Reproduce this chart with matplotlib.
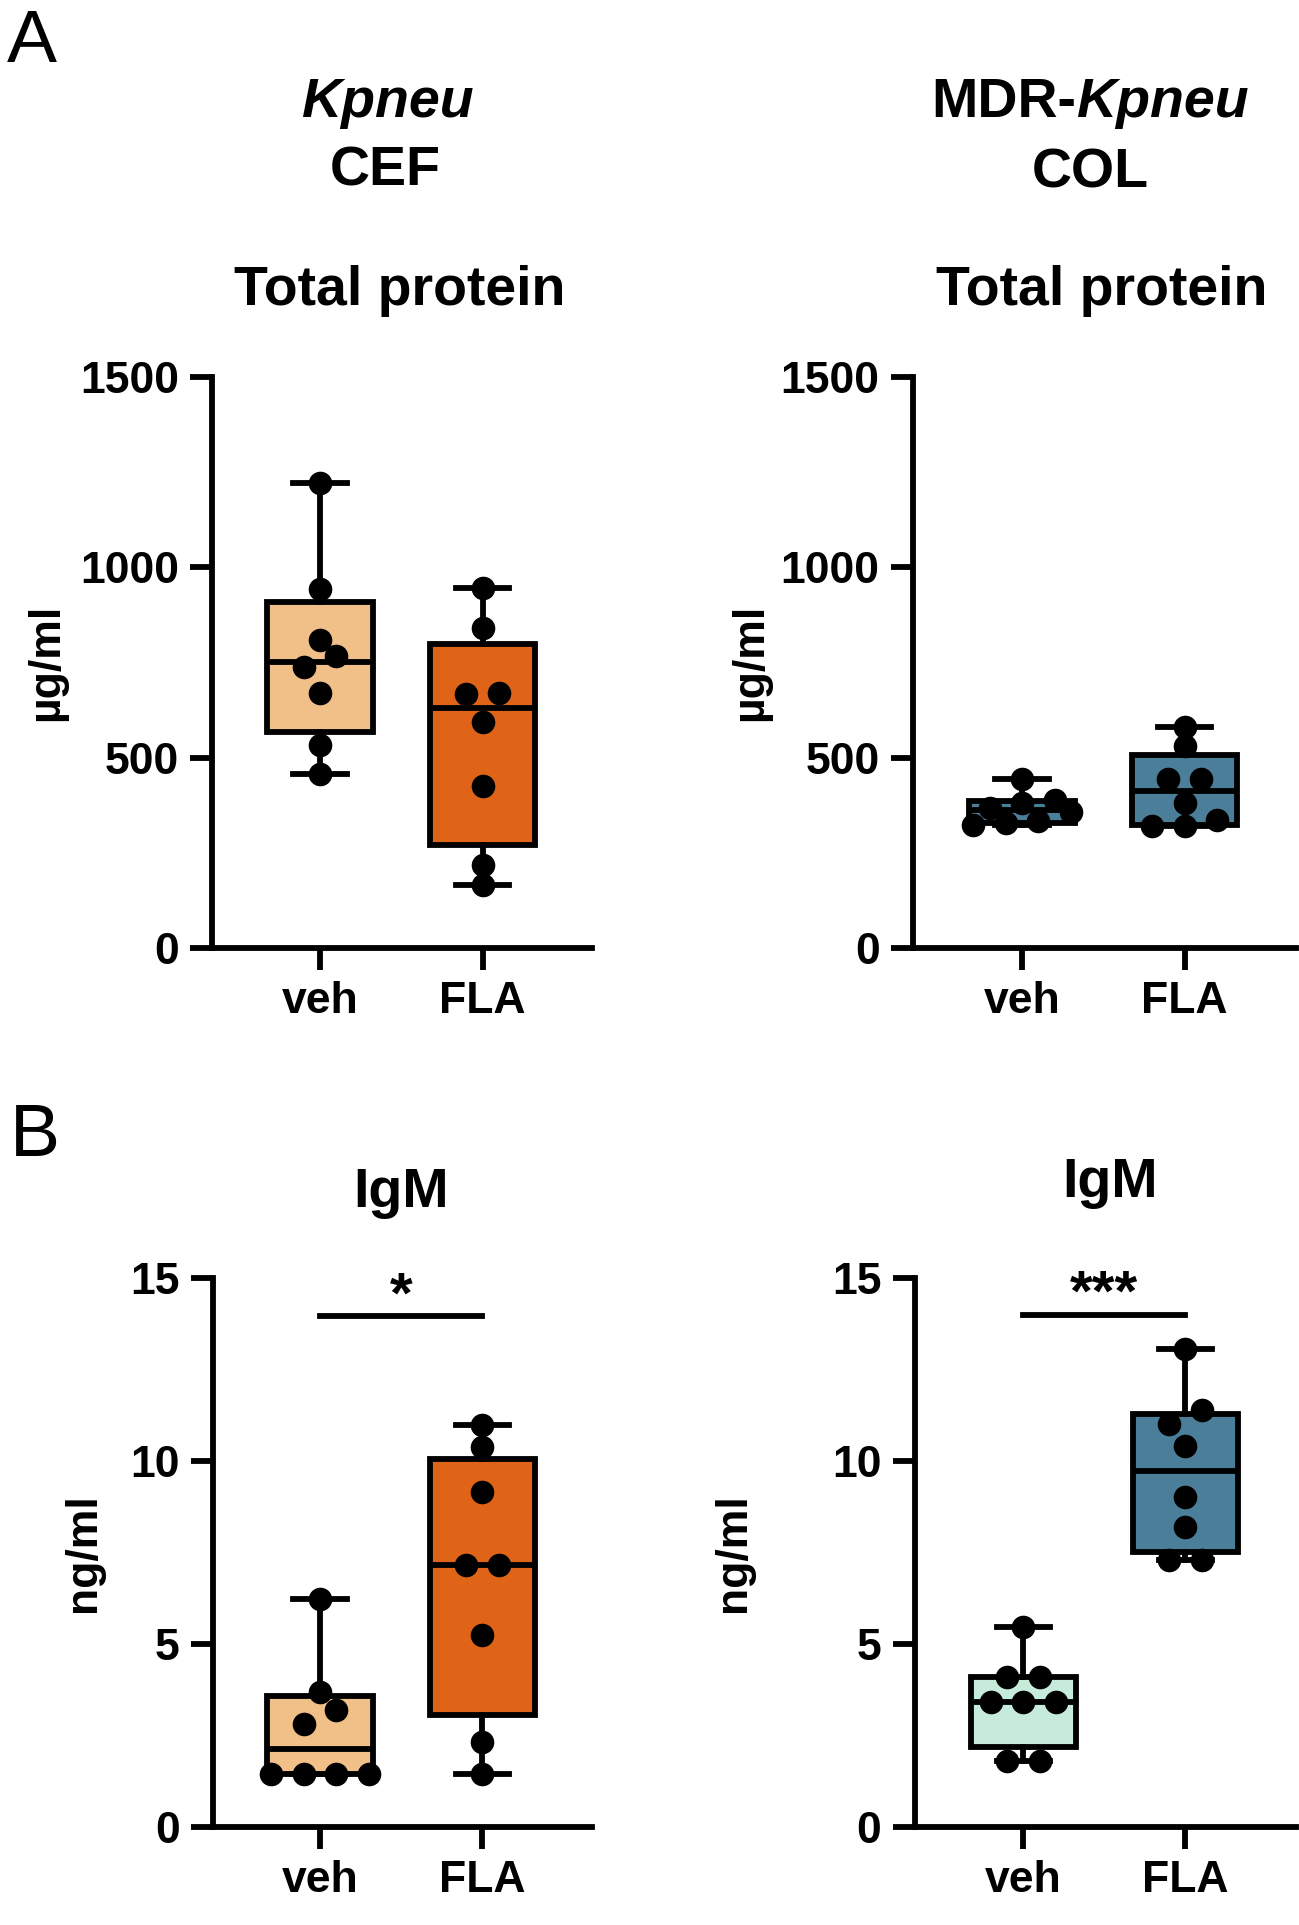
import numpy as np
import matplotlib
matplotlib.use('Agg')
import matplotlib.pyplot as plt

plt.rcParams['font.family'] = 'Liberation Sans'
plt.rcParams['font.weight'] = 'bold'

groups = ['veh', 'FLA']

# total protein (ug/ml)
protein_cef_veh = [457, 534, 670, 737, 766, 808, 942, 1221]
protein_cef_fla = [166, 219, 426, 593, 668, 671, 841, 947]
protein_col_veh = [323, 328, 334, 356, 367, 380, 389, 443]
protein_col_fla = [320, 320, 336, 380, 443, 443, 530, 580]

# IgM (ng/ml)
igm_cef_veh = [1.45, 1.45, 1.45, 1.45, 2.81, 3.21, 3.70, 6.23]
igm_cef_fla = [1.45, 2.33, 5.24, 7.15, 7.15, 9.15, 10.37, 10.99]
igm_col_veh = [1.79, 1.79, 3.42, 3.42, 3.42, 4.10, 4.10, 5.47]
igm_col_fla = [7.29, 7.29, 8.20, 9.03, 10.42, 11.01, 11.39, 13.06]

c_light_orange = '#F0C088'
c_orange = '#E06418'
c_blue = '#4B7E98'
c_mint = '#C6EBDA'

W, H = 1299, 1925
fig = plt.figure(figsize=(W / 100, H / 100), dpi=100)
LW = 4.2


def px_axes(x0, x1, ytop, ybot):
    return fig.add_axes([x0 / W, 1 - ybot / H, (x1 - x0) / W, (ybot - ytop) / H])


def box_stats(vals):
    v = np.asarray(vals, float)
    q1, med, q3 = np.percentile(v, [25, 50, 75], method='weibull')
    return dict(med=med, q1=q1, q3=q3, whislo=v.min(), whishi=v.max(), fliers=[])


def swarm(ax, vals, thr_px=15, step=0.2):
    # points closer than thr_px vertically are laid out side by side in a row
    vals = np.asarray(vals, float)
    order = np.argsort(vals, kind='stable')
    ypx = ax.transData.transform(np.column_stack([np.zeros(len(vals)), vals]))[:, 1]
    rows = []
    for i in order:
        if rows and ypx[i] - ypx[rows[-1][0]] < thr_px:
            rows[-1].append(i)
        else:
            rows.append([i])
    offs = np.zeros(len(vals))
    for r in rows:
        k = len(r)
        for j, i in enumerate(r):
            offs[i] = (j - (k - 1) / 2) * step
    return offs


def panel(ax, data, colors, ymax, yticks, ylabel, xlim, label_x):
    ax.set_xlim(*xlim)
    ax.set_ylim(0, ymax)
    stats = [box_stats(d) for d in data]
    bp = ax.bxp(stats, positions=[1, 2], widths=0.65, patch_artist=True,
                showfliers=False, capwidths=0.33,
                boxprops=dict(linewidth=LW, edgecolor='black'),
                medianprops=dict(linewidth=LW, color='black'),
                whiskerprops=dict(linewidth=LW, color='black'),
                capprops=dict(linewidth=LW, color='black'))
    for patch, c in zip(bp['boxes'], colors):
        patch.set_facecolor(c)
    for k in bp:
        for art in bp[k]:
            art.set_clip_on(False)
    for pos, d in zip([1, 2], data):
        offs = swarm(ax, d)
        ax.plot(pos + offs, d, 'o', color='black', markersize=17,
                markeredgewidth=0, zorder=5, clip_on=False)
    for s in ['top', 'right']:
        ax.spines[s].set_visible(False)
    for s in ['left', 'bottom']:
        ax.spines[s].set_linewidth(LW)
    ax.set_yticks(yticks)
    ax.set_xticks([1, 2])
    ax.set_xticklabels(groups)
    ax.tick_params(axis='both', length=16, width=LW, labelsize=32, pad=8)
    ax.set_ylabel(ylabel, fontsize=32, fontweight='bold')
    ax.yaxis.set_label_coords(label_x, 0.5)


def sig(ax, y, text, size):
    ax.plot([1, 2], [y, y], color='black', lw=LW, clip_on=False)
    ax.text(1.5, y + 0.1, text, ha='center', va='baseline', fontsize=size,
            fontweight='bold')


ax1 = px_axes(212.5, 592, 377, 948)
panel(ax1, [protein_cef_veh, protein_cef_fla], [c_light_orange, c_orange],
      1500, [0, 500, 1000, 1500], 'µg/ml', (0.338, 2.674), -0.383)

ax2 = px_axes(913, 1296, 377, 948)
panel(ax2, [protein_col_veh, protein_col_fla], [c_blue, c_blue],
      1500, [0, 500, 1000, 1500], 'µg/ml', (0.329, 2.686), -0.371)

ax3 = px_axes(213, 592, 1278, 1827)
panel(ax3, [igm_cef_veh, igm_cef_fla], [c_light_orange, c_orange],
      15, [0, 5, 10, 15], 'ng/ml', (0.342, 2.674), -0.288)
sig(ax3, 13.95, '*', 42)

ax4 = px_axes(914.6, 1296, 1278, 1827)
panel(ax4, [igm_col_veh, igm_col_fla], [c_mint, c_blue],
      15, [0, 5, 10, 15], 'ng/ml', (0.328, 2.683), -0.421)
sig(ax4, 14.0, '***', 42)


def ftext(xpx, ypx, s, **kw):
    return fig.text(xpx / W, 1 - ypx / H, s, va='baseline', **kw)


ftext(7, 62, 'A', fontsize=54, fontweight='normal')
ftext(10, 1156, 'B', fontsize=54, fontweight='normal')

ftext(387, 117, 'Kpneu', ha='center', fontsize=40, style='italic')
ftext(385, 186, 'CEF', ha='center', fontsize=40)
ftext(400, 305, 'Total protein', ha='center', fontsize=40)

# MDR-Kpneu: upright + italic part, centred together
renderer = fig.canvas.get_renderer()
t1 = ftext(0, 117, 'MDR-', ha='left', fontsize=40)
t2 = ftext(0, 117, 'Kpneu', ha='left', fontsize=40, style='italic')
w1 = t1.get_window_extent(renderer).width
w2 = t2.get_window_extent(renderer).width
x0 = 1090 - (w1 + w2) / 2
t1.set_x(x0 / W)
t2.set_x((x0 + w1) / W)
ftext(1090, 187, 'COL', ha='center', fontsize=40)
ftext(1102, 305, 'Total protein', ha='center', fontsize=40)

ftext(401, 1207, 'IgM', ha='center', fontsize=40)
ftext(1110, 1197, 'IgM', ha='center', fontsize=40)

fig.savefig('out.png', dpi=100, facecolor='white')
